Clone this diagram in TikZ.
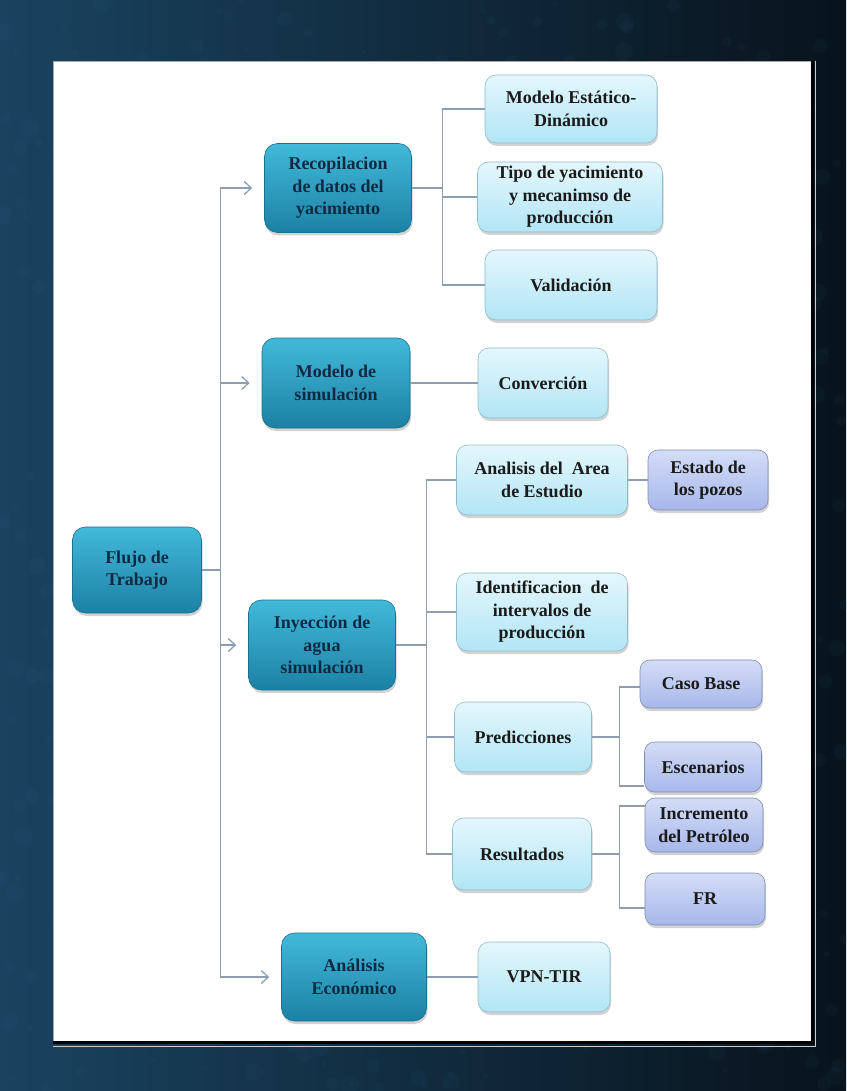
\documentclass[tikz,border=0pt]{standalone}
\usepackage{fontspec}
\setmainfont{Liberation Serif}
\usetikzlibrary{arrows.meta,shadows}

\definecolor{bgleft}{HTML}{1A4360}
\definecolor{bgright}{HTML}{08131C}
\definecolor{bgspot}{HTML}{2D6C8E}
\definecolor{hubtop}{HTML}{42B9DA}
\definecolor{hubbot}{HTML}{1C81A4}
\definecolor{hubedge}{HTML}{1A7090}
\definecolor{hubtext}{HTML}{0E2A42}
\definecolor{leaftop}{HTML}{E4F7FC}
\definecolor{leafbot}{HTML}{B2E5F5}
\definecolor{leafedge}{HTML}{8FBCCB}
\definecolor{leaftext}{HTML}{1A1A1A}
\definecolor{subtop}{HTML}{D4DDF7}
\definecolor{subbot}{HTML}{A7B7EA}
\definecolor{subedge}{HTML}{7D8DAE}
\definecolor{linkcol}{HTML}{8E9EB0}

\newcommand{\boxfont}{\bfseries\fontsize{18}{22.5}\selectfont}

\begin{document}
\begin{tikzpicture}[x=1pt,y=-1pt,
  hubbox/.style={draw=hubedge, line width=0.6pt, rounded corners=13pt,
    top color=hubtop, bottom color=hubbot, text=hubtext, align=center,
    inner sep=0pt, font=\boxfont,
    drop shadow={opacity=0.35, shadow xshift=1pt, shadow yshift=-3pt}},
  leafbox/.style={hubbox, rounded corners=11pt, draw=leafedge,
    top color=leaftop, bottom color=leafbot, text=leaftext},
  subbox/.style={hubbox, rounded corners=10pt, draw=subedge,
    top color=subtop, bottom color=subbot, text=leaftext},
  link/.style={draw=linkcol, line width=1.3pt},
  feed/.style={link, -{Straight Barb[length=7pt,width=13pt]}, shorten >=12pt}]
\useasboundingbox (0,0) rectangle (846,1091);

% background and panel
\shade[left color=bgleft, right color=bgright] (0,0) rectangle (846,1091);
\pgfmathsetseed{12}
\foreach \i in {1,...,700}{
  \pgfmathsetmacro\px{random(0,846)}
  \pgfmathsetmacro\py{random(0,1091)}
  \pgfmathsetmacro\pr{random(2,9)}
  \fill[bgspot, opacity=0.07] (\px,\py) circle (\pr);
}
\fill[white] (53,61) rectangle (811,1041);
\draw[gray!70, line width=0.8pt] (53,1041) -- (53,61) -- (811,61);
\draw[black, line width=3pt] (812.5,61) -- (812.5,1042.5) -- (53,1042.5);
\draw[gray!40, line width=1pt] (815,61) -- (815,1046) -- (53,1046);

% first level
\node[hubbox, minimum width=129pt, minimum height=86pt] (flujo) at (137,570) {Flujo de\\Trabajo};
\node[hubbox, minimum width=147pt, minimum height=89pt] (recop) at (338,188) {Recopilacion\\de datos del\\yacimiento};
\node[hubbox, minimum width=148pt, minimum height=90pt] (modsim) at (336,383) {Modelo de\\simulación};
\node[hubbox, minimum width=147pt, minimum height=90pt] (inyec) at (322,645) {Inyección de\\agua\\simulación};
\node[hubbox, minimum width=145pt, minimum height=88pt] (econ) at (354,977) {Análisis\\Económico};

% second level
\node[leafbox, minimum width=172pt, minimum height=68pt] (mest) at (571,109) {Modelo Estático-\\Dinámico};
\node[leafbox, minimum width=185pt, minimum height=70pt] (tipo) at (570,197) {Tipo de yacimiento\\y mecanimso de\\producción};
\node[leafbox, minimum width=172pt, minimum height=70pt] (valid) at (571,285) {Validación};
\node[leafbox, minimum width=130pt, minimum height=70pt] (conv) at (543,383) {Converción};
\node[leafbox, minimum width=171pt, minimum height=70pt] (area) at (542,480) {Analisis del \ Area\\de Estudio};
\node[leafbox, minimum width=171pt, minimum height=78pt] (ident) at (542,612) {Identificacion \ de\\intervalos de\\producción};
\node[leafbox, minimum width=137pt, minimum height=70pt] (pred) at (523,737) {Predicciones};
\node[leafbox, minimum width=139pt, minimum height=72pt] (result) at (522,854) {Resultados};
\node[leafbox, minimum width=132pt, minimum height=70pt] (vpn) at (544,977) {VPN-TIR};

% third level
\node[subbox, minimum width=120pt, minimum height=60pt] (estado) at (708,480) {Estado de\\los pozos};
\node[subbox, minimum width=122pt, minimum height=48pt] (caso) at (701,684) {Caso Base};
\node[subbox, minimum width=117pt, minimum height=50pt] (escen) at (703,767) {Escenarios};
\node[subbox, minimum width=118pt, minimum height=54pt] (incr) at (704,825) {Incremento\\del Petróleo};
\node[subbox, minimum width=120pt, minimum height=52pt] (fr) at (705,899) {FR};

% connectors
\draw[feed] (flujo.east) -- ++(19,0) |- (recop.west);
\draw[feed] (flujo.east) -- ++(19,0) |- (modsim.west);
\draw[feed] (flujo.east) -- ++(19,0) |- (inyec.west);
\draw[feed] (flujo.east) -- ++(19,0) |- (econ.west);

\draw[link] (recop.east) -- ++(31,0) |- (mest.west);
\draw[link] (recop.east) -- ++(31,0) |- (tipo.west);
\draw[link] (recop.east) -- ++(31,0) |- (valid.west);
\draw[link] (modsim.east) -- (conv.west);

\draw[link] (inyec.east) -- ++(31,0) |- (area.west);
\draw[link] (inyec.east) -- ++(31,0) |- (ident.west);
\draw[link] (inyec.east) -- ++(31,0) |- (pred.west);
\draw[link] (inyec.east) -- ++(31,0) |- (result.west);
\draw[link] (area.east) -- (estado.west);

\draw[link] (pred.east) -- ++(28,0) |- ([yshift=-3pt]caso.west);
\draw[link] (pred.east) -- ++(28,0) |- ([yshift=-19pt]escen.west);
\draw[link] (result.east) -- ++(28,0) |- ([yshift=19pt]incr.west);
\draw[link] (result.east) -- ++(28,0) |- ([yshift=-9pt]fr.west);
\draw[link] (econ.east) -- (vpn.west);
\end{tikzpicture}
\end{document}
